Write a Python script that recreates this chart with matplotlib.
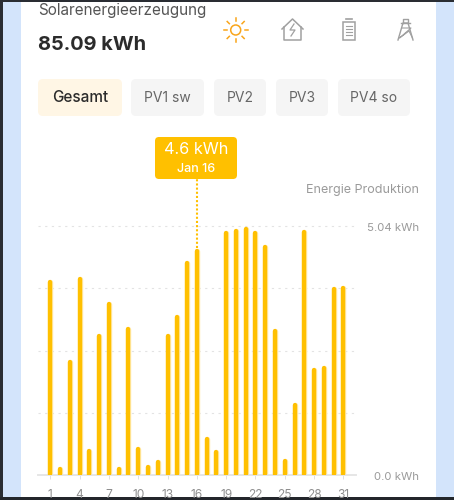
import matplotlib
matplotlib.use("Agg")
import matplotlib.pyplot as plt
from matplotlib.patches import Circle, FancyBboxPatch, Rectangle
from matplotlib.transforms import offset_copy
import numpy as np

plt.rcParams["font.family"] = ["Inter", "Open Sans", "DejaVu Sans"]

days = list(range(1, 32))
energy = [3.95, 0.16, 2.33, 4.01, 0.53, 2.87, 3.50, 0.18, 3.00, 0.57, 0.22, 0.32,
          2.86, 3.24, 4.33, 4.58, 0.77, 0.52, 4.94, 4.98, 5.02, 4.94, 4.66, 2.96,
          0.34, 1.46, 4.96, 2.17, 2.22, 3.82, 3.84]
day_ticks = [1, 4, 7, 10, 13, 16, 19, 22, 25, 28, 31]
grid_levels = [1.26, 2.52, 3.78, 5.04]
axis_labels = ["0.0 kWh", "5.04 kWh"]
axis_values = [0.0, 5.04]
selected_day = 16
selected_value = 4.6
pills = ["Gesamt", "PV1 sw", "PV2", "PV3", "PV4 so"]

AMBER = "#ffc000"
GREY = "#8f8f8f"
W, H = 454, 500

fig = plt.figure(figsize=(W / 100, H / 100), dpi=100, facecolor="#d3e4fb")

# page furniture is laid out in screen pixels
bg = fig.add_axes([0, 0, 1, 1], zorder=0)
bg.set_xlim(0, W); bg.set_ylim(H, 0); bg.axis("off")
bg.add_patch(Rectangle((21, 0), 415, H, color="white", lw=0))
bg.add_patch(Rectangle((0, 0), 2.5, H, color="#2a2d33", lw=0))
bg.add_patch(Rectangle((0, 0), W, 1.5, color="#2a2d33", lw=0))
bg.add_patch(Rectangle((0, 497), W, 3, color="#23262b", lw=0))

bg.text(38, 10, "Solarenergieerzeugung", fontsize=11, color="#555555", va="center", ha="left")
bg.text(38, 44.5, "85.09 kWh", fontsize=14.4, color="#2b2b2b", fontweight="bold", va="center", ha="left")

pill_x = [(38, 122), (131, 204), (214, 266), (276, 328), (338, 410)]
for name, (x0, x1) in zip(pills, pill_x):
    active = name == "Gesamt"
    bg.add_patch(FancyBboxPatch((x0 + 4, 83), x1 - x0 - 8, 29, boxstyle="round,pad=4,rounding_size=5",
                                fc="#fff6e5" if active else "#f5f5f5", ec="none"))
    bg.text((x0 + x1) / 2, 97.5, name, fontsize=11 if active else 10, va="center", ha="center",
            color="#2b2b2b" if active else "#666666", fontweight="medium" if active else "normal")

# sun icon
sun = "#f9a51a"
bg.add_patch(Circle((235.7, 30), 5, fc="none", ec=sun, lw=1.1))
for a in np.arange(0, 360, 45):
    c, s = np.cos(np.radians(a)), np.sin(np.radians(a))
    bg.plot([235.7 + 9 * c, 235.7 + 12 * c], [30 + 9 * s, 30 + 12 * s], color=sun, lw=1.1)

# house icon
icon = "#a0a0a0"
bg.plot([282, 292.5, 303], [29, 19, 29], color=icon, lw=1.1)
bg.plot([284, 284, 301, 301], [27, 40, 40, 27], color=icon, lw=1.1)
bg.plot([294, 290, 295, 291], [24, 30, 30, 36], color=icon, lw=0.9)

# battery icon
bg.add_patch(Rectangle((343, 22), 12, 18, fc="none", ec=icon, lw=1.1))
bg.plot([346, 352], [18.5, 18.5], color=icon, lw=1.2)
for y in [26, 29, 32, 35]:
    bg.plot([346, 352], [y, y], color=icon, lw=0.8)

# pylon icon
bg.plot([398, 403, 408, 413], [40, 23, 23, 40], color=icon, lw=1.0)
bg.plot([401, 410], [23, 23], color=icon, lw=1.0)
bg.plot([403, 403, 408, 408], [23, 19, 19, 23], color=icon, lw=1.0)
bg.plot([402, 411, 399.5, 409], [28, 28, 38, 31], color=icon, lw=0.8)
bg.plot([409, 412.5], [31, 38], color=icon, lw=0.8)

ax = fig.add_axes([38 / W, 25 / H, 318 / W, 249 / H], zorder=1)
ax.patch.set_alpha(0)
ax.set_xlim(-0.26, 32.29)
ax.set_ylim(0, 5.04)
for side in ["top", "right", "left"]:
    ax.spines[side].set_visible(False)
ax.spines["bottom"].set_color("#e6e6e6")
ax.spines["bottom"].set_linewidth(1.4)

for level in grid_levels:
    ax.axhline(level, color="#e3e3e3", lw=0.8, ls=(0, (2, 4)), zorder=0, clip_on=False)

# shift bars down by the cap radius so the rounded tip ends on the value
shifted = offset_copy(ax.transData, fig=fig, y=-2.4, units="dots")
ax.vlines(days, -0.1, energy, colors="#ffe9a8", lw=3.9, capstyle="round", transform=shifted, zorder=2)
ax.vlines(days, -0.1, energy, colors=AMBER, lw=3.1, capstyle="round", transform=shifted, zorder=3)

ax.set_xticks(day_ticks)
ax.set_xticklabels(day_ticks, fontsize=8.6, color=GREY)
ax.tick_params(axis="x", length=3, width=0.7, color="#e0e0e0", pad=7)
ax.set_yticks([])

for label, val in zip(axis_labels, axis_values):
    ax.annotate(label, xy=(1, val), xycoords=("axes fraction", "data"), xytext=(63, -2),
                textcoords="offset pixels", ha="right", va="center", fontsize=8.2, color="#9a9a9a")

bg.text(419, 189.5, "Energie Produktion", fontsize=9, color="#9a9a9a", ha="right", va="center")

# tooltip with dotted leader to the selected bar
ax.plot([selected_day, selected_day], [selected_value, 5.04 + 47 / 49.4], color=AMBER, lw=1.5,
        ls=(0, (1, 1)), clip_on=False, zorder=4)
bg.add_patch(FancyBboxPatch((159, 141), 74, 34, boxstyle="round,pad=4,rounding_size=4", fc=AMBER, ec="none"))
bg.text(196, 150, f"{selected_value} kWh", color="white", fontsize=11.7, ha="center", va="center")
bg.text(196, 169.5, f"Jan {selected_day}", color="white", fontsize=9, ha="center", va="center", fontweight="medium")

fig.savefig("out.png", dpi=100)
